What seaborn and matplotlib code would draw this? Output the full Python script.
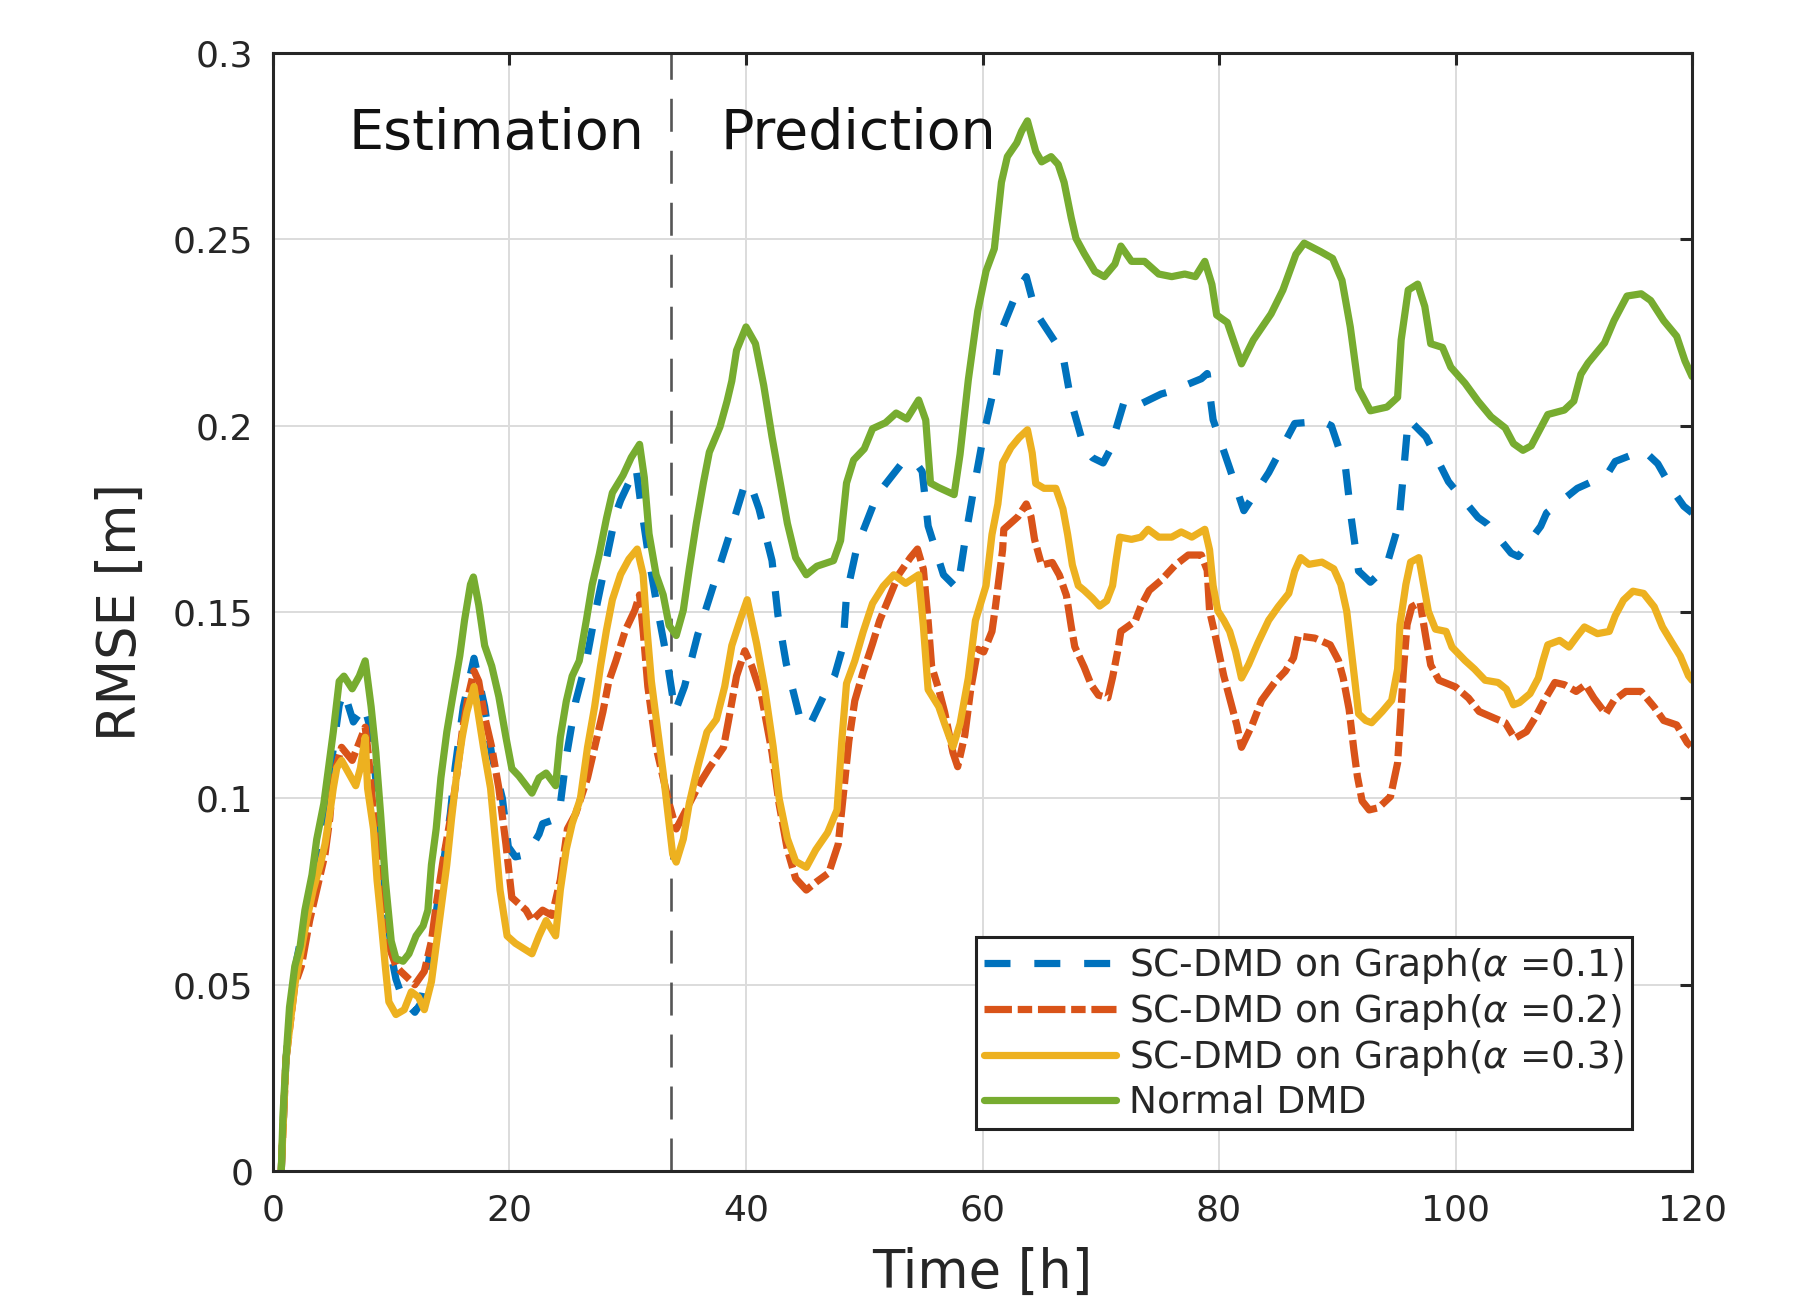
import numpy as np
import matplotlib
matplotlib.use("Agg")
import matplotlib.pyplot as plt
import seaborn as sns

# Data (time [h], RMSE [m])

alpha01 = np.array([
    (0.7, 0), (1.1, 0.03), (1.85, 0.054), (2.7, 0.068), (3.7, 0.085), (4.7, 0.104),
    (5.6, 0.125), (6.0, 0.1287), (6.8, 0.1205), (7.4, 0.1232), (7.7, 0.125), (8.3, 0.118),
    (8.7, 0.105), (9.1, 0.09), (9.5, 0.074), (10.1, 0.0563), (10.4, 0.0515), (11.0, 0.046),
    (12.0, 0.0426), (12.5, 0.045), (13.1, 0.0549), (13.7, 0.0672), (14.4, 0.0822),
    (15.0, 0.0959), (15.4, 0.1082), (16.1, 0.1246), (17.0, 0.1376), (17.9, 0.1246),
    (18.5, 0.1116), (19.4, 0.100), (19.9, 0.087), (20.5, 0.0843), (21.5, 0.085),
    (22.5, 0.0904), (22.8, 0.0932), (23.5, 0.094), (24.2, 0.0959), (24.8, 0.111),
    (25.6, 0.126), (26.5, 0.1369), (27.3, 0.1505), (28.2, 0.1642), (29.0, 0.1765),
    (29.4, 0.180), (30.7, 0.1888), (31.1, 0.1792), (31.8, 0.1642), (32.5, 0.1512),
    (33.3, 0.1376), (34.0, 0.1232), (34.8, 0.130), (35.9, 0.1437), (37.2, 0.1567),
    (38.5, 0.1697), (39.8, 0.1833), (40.3, 0.185), (41.1, 0.1777), (42.2, 0.1638),
    (42.7, 0.1492), (43.4, 0.1362), (44.5, 0.1223), (45.3, 0.119), (46.6, 0.1277),
    (47.5, 0.133), (48.2, 0.1408), (48.5, 0.1546), (49.4, 0.1677), (51.1, 0.1815),
    (53.2, 0.190), (54.2, 0.1908), (54.9, 0.1877), (55.4, 0.1731), (56.7, 0.160),
    (57.9, 0.1562), (58.6, 0.1708), (59.3, 0.1838), (60.1, 0.1977), (61.1, 0.2119),
    (61.7, 0.2263), (63.0, 0.2366), (63.7, 0.240), (64.5, 0.2304), (66.2, 0.2222),
    (66.8, 0.2188), (67.5, 0.2064), (68.6, 0.1941), (69.3, 0.1914), (70.2, 0.190),
    (71.0, 0.1948), (71.2, 0.1982), (72.0, 0.2067), (72.9, 0.2051), (75.1, 0.2085),
    (75.9, 0.2092), (78.5, 0.2126), (79.0, 0.214), (79.5, 0.2016), (80.9, 0.1886),
    (82.1, 0.1772), (84.2, 0.1874), (84.6, 0.1898), (86.4, 0.2006), (88.7, 0.2012),
    (89.5, 0.200), (90.7, 0.1886), (91.2, 0.1748), (91.8, 0.161), (92.8, 0.158),
    (93.8, 0.161), (94.2, 0.1628), (95.2, 0.1736), (95.6, 0.1874), (96.0, 0.2018),
    (97.5, 0.197), (99.4, 0.185), (101.9, 0.1754), (102.7, 0.1736), (104.7, 0.1658),
    (105.3, 0.1649), (107.2, 0.173), (107.7, 0.1766), (110.3, 0.1832), (112.8, 0.1868),
    (113.5, 0.1904), (115.9, 0.1934), (117.1, 0.1898), (118.5, 0.182), (119.3, 0.1784),
    (120.0, 0.1766),
])

alpha02 = np.array([
    (0.7, 0), (1.1, 0.03), (1.85, 0.05), (2.4, 0.055), (3.1, 0.0672), (3.7, 0.0754),
    (4.4, 0.085), (4.8, 0.0945), (5.1, 0.1055), (5.8, 0.1137), (6.7, 0.1102), (7.3, 0.115),
    (7.8, 0.1191), (8.1, 0.1109), (8.5, 0.0959), (9.1, 0.0768), (9.8, 0.0604), (10.4, 0.055),
    (10.8, 0.0536), (12.0, 0.050), (12.8, 0.0536), (13.4, 0.0617), (13.8, 0.0713),
    (14.4, 0.0836), (15.0, 0.0945), (15.4, 0.1027), (16.0, 0.1178), (16.5, 0.1273),
    (17.0, 0.1342), (17.4, 0.1314), (17.9, 0.1219), (18.5, 0.1137), (19.1, 0.1027),
    (19.7, 0.0877), (20.2, 0.0734), (21.4, 0.070), (21.9, 0.0672), (22.8, 0.070),
    (23.6, 0.0686), (24.3, 0.0781), (24.9, 0.0918), (25.6, 0.0959), (26.6, 0.1055),
    (27.9, 0.1232), (28.4, 0.1314), (29.0, 0.1369), (29.8, 0.1451), (30.6, 0.1505),
    (31.0, 0.1546), (31.3, 0.1451), (31.7, 0.130), (32.4, 0.1137), (33.0, 0.1055),
    (33.5, 0.0986), (34.1, 0.0918), (35.0, 0.0973), (36.1, 0.1041), (36.9, 0.1082),
    (38.1, 0.1137), (38.5, 0.1205), (39.2, 0.1328), (39.9, 0.1396), (40.5, 0.1354),
    (41.3, 0.1277), (42.2, 0.1123), (42.8, 0.0985), (43.5, 0.0862), (44.2, 0.0785),
    (45.1, 0.0754), (46.0, 0.0777), (47.0, 0.080), (47.8, 0.0877), (48.2, 0.100),
    (48.7, 0.1154), (49.2, 0.1262), (49.9, 0.1338), (50.7, 0.1415), (51.3, 0.1477),
    (52.1, 0.1538), (52.9, 0.160), (53.9, 0.1646), (54.5, 0.1669), (55.0, 0.1615),
    (55.4, 0.1477), (55.7, 0.1354), (56.3, 0.1292), (56.8, 0.1231), (57.5, 0.1123),
    (57.9, 0.1085), (58.5, 0.1169), (59.0, 0.1292), (59.6, 0.140), (60.1, 0.1393),
    (60.8, 0.1448), (61.1, 0.1516), (61.4, 0.1592), (61.7, 0.1667), (61.8, 0.1722),
    (63.0, 0.1756), (63.7, 0.179), (64.1, 0.1756), (64.4, 0.1695), (65.0, 0.1626),
    (65.9, 0.1633), (66.5, 0.1599), (67.1, 0.1544), (67.5, 0.1462), (67.8, 0.1407),
    (68.6, 0.1352), (69.2, 0.1304), (69.8, 0.1277), (70.6, 0.127), (71.0, 0.1325),
    (71.5, 0.1407), (71.7, 0.1448), (72.9, 0.1475), (73.4, 0.1516), (74.1, 0.1558),
    (75.1, 0.1585), (76.3, 0.1626), (77.4, 0.1653), (78.5, 0.1653), (79.0, 0.1612),
    (79.2, 0.1503), (79.7, 0.1434), (80.4, 0.1329), (81.1, 0.1245), (81.5, 0.1197),
    (81.9, 0.1137), (82.8, 0.1197), (83.6, 0.1263), (84.7, 0.1311), (85.6, 0.1341),
    (86.3, 0.1377), (86.7, 0.1436), (88.1, 0.143), (89.4, 0.1412), (90.1, 0.137),
    (90.5, 0.1323), (91.0, 0.1239), (91.4, 0.1131), (91.7, 0.1059), (92.1, 0.0993),
    (92.7, 0.0969), (93.5, 0.0975), (94.5, 0.1005), (95.1, 0.1095), (95.3, 0.1191),
    (95.6, 0.1347), (95.9, 0.1466), (96.3, 0.1514), (97.0, 0.1526), (97.5, 0.143),
    (97.9, 0.1358), (98.6, 0.1317), (100.0, 0.1299), (101.1, 0.1269), (102.0, 0.1233),
    (103.3, 0.1215), (104.2, 0.1203), (105.0, 0.1161), (106.0, 0.1179), (106.7, 0.1215),
    (107.5, 0.1263), (108.4, 0.1311), (109.2, 0.1305), (110.2, 0.1287), (111.0, 0.1305),
    (111.7, 0.1269), (112.7, 0.1227), (113.4, 0.1263), (114.4, 0.1287), (115.7, 0.1287),
    (116.8, 0.1245), (117.6, 0.1209), (118.7, 0.1197), (119.6, 0.1149), (120.0, 0.1137),
])

alpha03 = np.array([
    (0.7, 0), (1.1, 0.03), (1.85, 0.05), (2.3, 0.0577), (2.85, 0.0672), (3.4, 0.0754),
    (4.0, 0.0822), (4.4, 0.0877), (4.8, 0.0959), (5.1, 0.1027), (5.4, 0.1082), (5.8, 0.1102),
    (6.4, 0.1068), (7.0, 0.1034), (7.4, 0.1082), (7.8, 0.1164), (8.0, 0.1027), (8.5, 0.0918),
    (8.8, 0.0781), (9.1, 0.0686), (9.5, 0.0549), (9.8, 0.0454), (10.4, 0.042), (11.1, 0.0433),
    (11.7, 0.0481), (12.3, 0.0467), (12.8, 0.0433), (13.4, 0.0508), (13.8, 0.0604),
    (14.2, 0.070), (14.7, 0.0822), (15.1, 0.0945), (15.5, 0.1055), (16.0, 0.1164),
    (16.4, 0.1232), (17.0, 0.130), (17.4, 0.1219), (17.8, 0.1137), (18.4, 0.1027),
    (18.8, 0.0891), (19.2, 0.0754), (19.8, 0.0631), (20.5, 0.0611), (21.9, 0.0583),
    (22.5, 0.0631), (23.1, 0.0672), (23.9, 0.0631), (24.3, 0.0754), (24.8, 0.0863),
    (25.3, 0.0932), (26.0, 0.100), (26.6, 0.1137), (27.2, 0.1246), (27.7, 0.1355),
    (28.2, 0.1451), (28.7, 0.1533), (29.4, 0.1601), (30.1, 0.1642), (30.8, 0.1669),
    (31.3, 0.1601), (31.6, 0.1464), (32.0, 0.1314), (32.5, 0.1191), (33.0, 0.1068),
    (33.4, 0.0959), (33.8, 0.085), (34.1, 0.0829), (34.7, 0.0891), (35.2, 0.0986),
    (35.9, 0.1082), (36.7, 0.1178), (37.5, 0.1212), (38.2, 0.130), (38.8, 0.141),
    (39.5, 0.1478), (40.1, 0.1533), (40.9, 0.1415), (41.6, 0.1292), (42.3, 0.1138),
    (42.8, 0.100), (43.5, 0.0892), (44.2, 0.0831), (45.1, 0.0815), (45.9, 0.0862),
    (46.9, 0.0908), (47.7, 0.0969), (48.1, 0.1154), (48.5, 0.1308), (49.2, 0.1369),
    (49.9, 0.1446), (50.7, 0.1523), (51.6, 0.1569), (52.5, 0.160), (53.5, 0.1577),
    (54.6, 0.160), (55.0, 0.1462), (55.4, 0.1292), (56.3, 0.1246), (56.8, 0.120),
    (57.5, 0.1138), (58.1, 0.120), (58.8, 0.1323), (59.4, 0.1477), (60.3, 0.1571),
    (60.8, 0.1708), (61.3, 0.179), (61.7, 0.190), (62.4, 0.1941), (63.1, 0.1968),
    (63.8, 0.1989), (64.2, 0.1927), (64.5, 0.1845), (65.2, 0.1832), (66.2, 0.1832),
    (66.8, 0.1777), (67.2, 0.1708), (67.6, 0.1626), (68.1, 0.1571), (68.6, 0.1558),
    (69.3, 0.1537), (69.9, 0.1516), (70.5, 0.153), (71.0, 0.1571), (71.3, 0.164),
    (71.6, 0.1701), (72.6, 0.1695), (73.4, 0.1701), (74.0, 0.1722), (74.9, 0.1701),
    (76.0, 0.1701), (76.8, 0.1715), (77.7, 0.1701), (78.8, 0.1722), (79.2, 0.1667),
    (79.5, 0.1571), (79.9, 0.1503), (80.4, 0.1478), (80.9, 0.1448), (81.4, 0.1394),
    (81.9, 0.1323), (82.5, 0.1359), (83.3, 0.1418), (84.2, 0.1478), (85.0, 0.1514),
    (85.9, 0.155), (86.4, 0.161), (86.9, 0.1646), (87.6, 0.1628), (88.7, 0.1634),
    (89.7, 0.1616), (90.3, 0.1574), (90.8, 0.1502), (91.2, 0.1394), (91.5, 0.1311),
    (91.8, 0.1227), (92.4, 0.1209), (92.9, 0.1203), (93.8, 0.1233), (94.6, 0.1263),
    (95.1, 0.1347), (95.3, 0.1466), (95.8, 0.1574), (96.2, 0.1634), (96.9, 0.1646),
    (97.3, 0.1574), (97.7, 0.1502), (98.3, 0.1454), (99.2, 0.1448), (99.7, 0.1406),
    (100.8, 0.137), (101.6, 0.1347), (102.5, 0.1317), (103.6, 0.1311), (104.3, 0.1293),
    (104.9, 0.1251), (105.4, 0.1257), (106.3, 0.1281), (107.0, 0.1323), (107.4, 0.137),
    (107.8, 0.1412), (108.8, 0.1424), (109.6, 0.1406), (110.3, 0.1436), (110.9, 0.146),
    (112.0, 0.1442), (113.0, 0.1448), (113.5, 0.149), (114.2, 0.1532), (115.0, 0.1556),
    (115.9, 0.155), (116.8, 0.1514), (117.5, 0.146), (118.3, 0.1418), (119.0, 0.1382),
    (119.7, 0.1329), (120.0, 0.1317),
])

normal_dmd = np.array([
    (0.7, 0), (0.85, 0.0153), (1.1, 0.030), (1.4, 0.044), (1.85, 0.055), (2.3, 0.0604),
    (2.7, 0.070), (3.3, 0.0795), (3.7, 0.089), (4.3, 0.0986), (4.7, 0.1082), (5.1, 0.1178),
    (5.6, 0.1314), (6.0, 0.1328), (6.7, 0.1294), (7.3, 0.1328), (7.8, 0.1369), (8.3, 0.1246),
    (8.7, 0.1123), (9.1, 0.0959), (9.5, 0.0781), (10.0, 0.0617), (10.4, 0.057), (11.0, 0.0563),
    (11.5, 0.0583), (12.1, 0.0631), (12.7, 0.0658), (13.1, 0.070), (13.4, 0.0822),
    (13.8, 0.0918), (14.2, 0.1055), (14.7, 0.1178), (15.2, 0.1273), (15.8, 0.1383),
    (16.2, 0.1478), (16.7, 0.1574), (16.95, 0.1594), (17.4, 0.1519), (17.9, 0.141),
    (18.5, 0.1355), (19.1, 0.1273), (19.7, 0.1164), (20.2, 0.108), (20.8, 0.106),
    (21.9, 0.1014), (22.5, 0.1055), (23.1, 0.1068), (23.9, 0.1034), (24.3, 0.1164),
    (24.8, 0.126), (25.3, 0.1328), (25.9, 0.1369), (26.5, 0.1478), (27.0, 0.1574),
    (27.6, 0.1656), (28.2, 0.1751), (28.7, 0.182), (29.6, 0.1867), (30.3, 0.1915),
    (31.0, 0.195), (31.4, 0.1861), (31.8, 0.171), (32.4, 0.16), (33.0, 0.1546),
    (33.5, 0.1464), (34.1, 0.1437), (34.7, 0.1505), (35.2, 0.1615), (35.8, 0.1738),
    (36.4, 0.1847), (36.9, 0.1929), (37.8, 0.1997), (38.4, 0.2066), (38.8, 0.212),
    (39.2, 0.2202), (40.0, 0.2265), (40.8, 0.222), (41.5, 0.2108), (42.2, 0.197),
    (42.9, 0.1846), (43.5, 0.1738), (44.2, 0.1646), (45.1, 0.160), (46.0, 0.1623),
    (47.4, 0.1638), (48.0, 0.1692), (48.5, 0.1846), (49.1, 0.1908), (50.0, 0.1938),
    (50.7, 0.1992), (51.8, 0.2008), (52.7, 0.2034), (53.6, 0.2018), (54.6, 0.2069),
    (55.2, 0.2015), (55.6, 0.1846), (56.3, 0.1834), (57.6, 0.1815), (58.1, 0.1923),
    (58.8, 0.2123), (59.6, 0.2308), (60.3, 0.2415), (61.0, 0.2475), (61.6, 0.2653),
    (62.1, 0.2722), (62.9, 0.2759), (63.3, 0.279), (63.8, 0.2818), (64.5, 0.2736),
    (65.0, 0.2708), (65.8, 0.2722), (66.4, 0.2701), (66.9, 0.2653), (67.5, 0.2558),
    (67.9, 0.2503), (68.6, 0.2462), (69.5, 0.2414), (70.3, 0.240), (71.2, 0.2434),
    (71.7, 0.2482), (72.6, 0.2441), (73.7, 0.2441), (74.9, 0.2407), (76.0, 0.240),
    (77.1, 0.2407), (78.0, 0.240), (78.8, 0.2441), (79.4, 0.2379), (79.8, 0.2297),
    (80.7, 0.2277), (81.9, 0.2166), (82.9, 0.223), (84.4, 0.230), (85.4, 0.2364),
    (86.5, 0.246), (87.2, 0.249), (88.6, 0.2467), (89.6, 0.2449), (90.4, 0.239),
    (91.1, 0.2265), (91.8, 0.210), (92.8, 0.204), (94.2, 0.205), (95.1, 0.2076),
    (95.4, 0.223), (96.0, 0.2364), (96.8, 0.238), (97.4, 0.232), (97.9, 0.222),
    (98.9, 0.221), (99.6, 0.2157), (100.8, 0.2114), (101.9, 0.2066), (103.0, 0.2024),
    (104.2, 0.1994), (104.9, 0.1952), (105.7, 0.1934), (106.4, 0.1946), (107.1, 0.1988),
    (107.8, 0.203), (109.2, 0.2042), (110.0, 0.2066), (110.6, 0.2138), (111.2, 0.2168),
    (112.6, 0.2222), (113.4, 0.2282), (114.5, 0.2348), (115.7, 0.2354), (116.5, 0.2336),
    (117.6, 0.2282), (118.7, 0.224), (119.4, 0.2174), (120.0, 0.2132),
])

series_labels = [
    r"SC-DMD on Graph($\alpha$ =0.1)",
    r"SC-DMD on Graph($\alpha$ =0.2)",
    r"SC-DMD on Graph($\alpha$ =0.3)",
    "Normal DMD",
]
series_colors = ["#0072BD", "#D95319", "#EDB120", "#77AC30"]
series_dashes = [(0, (3.6, 3.3)), (0, (3.8, 0.8, 2.0, 0.8)), "-", "-"]

split_time = 33.7
phase_labels = ["Estimation", "Prediction"]
phase_x = [18.9, 49.5]

xticks = [0, 20, 40, 60, 80, 100, 120]
yticks = [0, 0.05, 0.1, 0.15, 0.2, 0.25, 0.3]
ytick_labels = ["0", "0.05", "0.1", "0.15", "0.2", "0.25", "0.3"]

# Style
sns.set_style("whitegrid")
plt.rcParams["font.family"] = ["DejaVu Sans"]
plt.rcParams["mathtext.fontset"] = "dejavusans"

line_w = 5.2

fig = plt.figure(figsize=(17.97, 13.0), dpi=100)
ax = fig.add_axes([0.1519, 0.0992, 0.7897, 0.8600])

for data, label, color, ls in zip([alpha01, alpha02, alpha03, normal_dmd],
                                  series_labels, series_colors, series_dashes):
    sns.lineplot(x=data[:, 0], y=data[:, 1], ax=ax, color=color, linewidth=line_w,
                 linestyle=ls, sort=False, estimator=None, label=label)

ax.axvline(split_time, color="#555555", lw=1.9, linestyle=(0, (12.5, 7.2)), zorder=1)

for txt, xp in zip(phase_labels, phase_x):
    ax.text(xp, 0.2742, txt, ha="center", va="baseline", fontsize=40, color="#111111")

ax.set_xlim(0, 120)
ax.set_ylim(0, 0.3)
ax.set_xticks(xticks)
ax.set_xticklabels([str(v) for v in xticks])
ax.set_yticks(yticks)
ax.set_yticklabels(ytick_labels)

ax.grid(True, color="#dcdcdc", lw=1.4)
ax.set_axisbelow(True)
for sp in ax.spines.values():
    sp.set_visible(True)
    sp.set_color("#262626")
    sp.set_linewidth(2.2)

ax.tick_params(direction="in", top=True, right=True, length=8.5, width=2.2,
               color="#262626", labelcolor="#262626", labelsize=26)
ax.tick_params(axis="x", pad=16)
ax.tick_params(axis="y", pad=14)

ax.set_xlabel("Time [h]", fontsize=38, color="#262626")
ax.set_ylabel("RMSE [m]", fontsize=38, color="#262626")
ax.xaxis.set_label_coords(0.5, -0.068)
ax.yaxis.set_label_coords(-0.089, 0.5)

leg = ax.legend(loc="lower right", bbox_to_anchor=(0.9577, 0.0376), fontsize=27,
                frameon=True, fancybox=False, framealpha=1, edgecolor="#222222",
                handlelength=3.5, handletextpad=0.35, labelspacing=0.17, borderpad=0.22,
                borderaxespad=0)
leg.get_frame().set_linewidth(2.2)
for line in leg.get_lines():
    line.set_linewidth(line_w)

fig.savefig("out.png", dpi=100)
print("done")
